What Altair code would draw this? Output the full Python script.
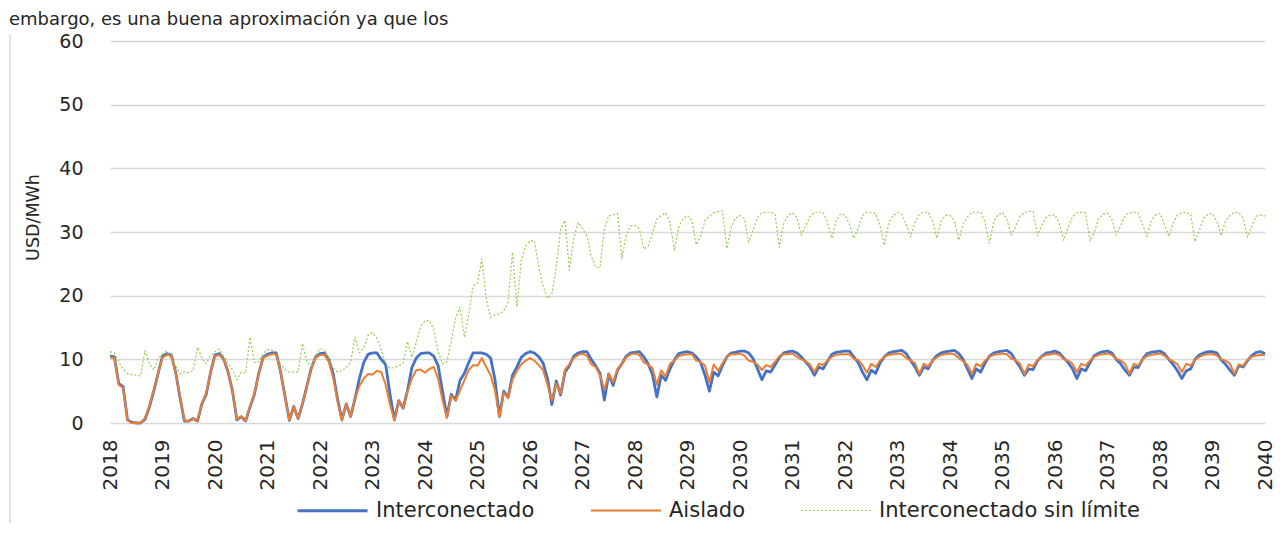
import altair as alt
import pandas as pd

START_YEAR = 2018
SERIES = ["Interconectado", "Aislado", "Interconectado sin límite"]
COLORS = ["#4472C4", "#ED7D31", "#92D050"]
Y_TICKS = [0, 10, 20, 30, 40, 50, 60]
Y_TITLE = "USD/MWh"
TOP_TEXT = "embargo, es una buena aproximación ya que los"

# Monthly values, one row per year (Jan..Dec), last value = Jan 2040
interconectado = [
    10.5, 10.4, 6.2, 5.7, 0.5, 0.1, 0.0, 0.0, 0.6, 2.5, 5.0, 7.8,
    10.5, 10.9, 10.7, 8.0, 4.0, 0.3, 0.3, 0.7, 0.3, 3.0, 4.5, 8.0,
    10.7, 10.9, 10.0, 8.0, 5.0, 0.5, 1.0, 0.3, 2.5, 4.5, 7.8, 10.3,
    10.8, 11.0, 11.0, 8.0, 4.2, 0.4, 2.6, 0.7, 3.0, 5.8, 8.6, 10.4,
    10.9, 11.0, 10.0, 7.8, 3.8, 0.5, 3.0, 1.0, 3.8, 7.0, 9.5, 10.8,
    11.0, 11.0, 10.0, 9.2, 4.5, 0.5, 3.5, 2.3, 5.1, 8.7, 10.2, 10.9,
    11.0, 11.0, 10.5, 9.0, 5.0, 1.0, 4.5, 3.6, 6.7, 7.8, 9.5, 11.0,
    11.0, 11.0, 10.8, 10.2, 6.8, 1.0, 5.0, 4.0, 7.5, 8.8, 10.3, 10.9,
    11.2, 11.0, 10.4, 9.4, 7.0, 2.9, 6.6, 4.4, 8.0, 9.0, 10.5, 11.0,
    11.2, 11.2, 10.0, 9.0, 7.8, 3.6, 7.7, 5.9, 8.3, 9.3, 10.5, 11.0,
    11.1, 11.2, 10.4, 9.3, 7.6, 4.1, 7.5, 6.7, 8.5, 9.9, 10.9, 11.1,
    11.2, 11.0, 10.4, 9.5, 7.5, 5.0, 8.0, 7.4, 9.0, 10.4, 11.0, 11.1,
    11.3, 11.3, 11.0, 10.1, 8.5, 6.8, 8.2, 8.0, 9.1, 10.3, 11.0, 11.2,
    11.3, 11.0, 10.4, 9.6, 8.8, 7.5, 8.8, 8.5, 9.7, 10.8, 11.1, 11.2,
    11.3, 11.3, 10.4, 9.5, 8.0, 6.8, 8.3, 7.8, 9.4, 10.4, 11.0, 11.2,
    11.3, 11.4, 10.9, 9.8, 8.8, 7.5, 8.8, 8.5, 9.8, 10.6, 11.0, 11.2,
    11.3, 11.4, 10.9, 10.0, 8.5, 7.0, 8.5, 8.0, 9.4, 10.5, 11.0, 11.2,
    11.3, 11.4, 10.9, 9.8, 8.8, 7.5, 8.5, 8.4, 9.8, 10.5, 11.0, 11.1,
    11.3, 11.0, 10.2, 9.5, 8.5, 7.0, 8.5, 8.2, 9.5, 10.6, 11.0, 11.2,
    11.3, 11.0, 10.0, 9.3, 8.3, 7.5, 8.8, 8.7, 10.0, 10.9, 11.1, 11.2,
    11.3, 10.9, 10.0, 9.2, 8.2, 7.0, 8.2, 8.5, 10.0, 10.7, 11.0, 11.2,
    11.2, 11.0, 9.9, 9.2, 8.3, 7.5, 9.0, 8.8, 9.8, 10.6, 11.1, 11.2,
    10.9,
]

aislado = [
    10.3, 10.2, 6.0, 5.5, 0.4, 0.0, 0.0, 0.0, 0.8, 2.7, 5.2, 7.8,
    10.3, 10.7, 10.6, 7.9, 4.2, 0.4, 0.3, 0.7, 0.3, 3.1, 4.7, 8.0,
    10.5, 10.7, 10.0, 8.0, 5.0, 0.6, 1.0, 0.3, 2.6, 4.6, 7.8, 10.2,
    10.6, 10.8, 10.8, 8.0, 4.2, 0.4, 2.6, 0.7, 3.0, 5.8, 8.5, 10.2,
    10.7, 10.7, 9.6, 7.2, 3.4, 0.4, 3.0, 1.0, 3.8, 5.8, 7.0, 7.7,
    7.6, 8.2, 8.0, 6.0, 2.9, 0.4, 3.5, 2.3, 4.9, 7.0, 8.3, 8.4,
    7.9, 8.5, 8.8, 7.0, 3.6, 0.8, 4.3, 3.5, 5.1, 6.7, 8.3, 9.1,
    9.0, 10.2, 8.8, 7.5, 5.1, 0.9, 4.8, 4.0, 6.8, 8.2, 9.2, 9.8,
    10.2, 9.8, 9.1, 8.3, 6.0, 3.6, 6.2, 4.6, 8.4, 9.2, 10.2, 10.7,
    10.9, 10.6, 9.2, 8.8, 7.5, 5.2, 7.7, 6.4, 8.5, 9.3, 10.3, 10.8,
    10.9, 10.7, 9.5, 9.2, 8.6, 6.0, 8.3, 7.3, 9.3, 9.8, 10.5, 10.7,
    10.8, 10.8, 9.8, 9.6, 9.0, 6.4, 9.2, 8.2, 9.4, 10.4, 10.8, 10.8,
    10.9, 10.6, 9.8, 9.6, 9.2, 8.3, 9.1, 8.8, 9.6, 10.5, 10.8, 10.8,
    10.9, 10.4, 10.0, 9.7, 9.2, 8.0, 9.3, 9.1, 9.8, 10.4, 10.7, 10.8,
    10.8, 10.8, 10.1, 9.9, 9.1, 7.9, 9.3, 8.8, 9.8, 10.4, 10.7, 10.8,
    10.9, 10.8, 10.2, 9.8, 9.4, 7.7, 9.3, 8.9, 9.8, 10.3, 10.7, 10.8,
    10.9, 10.8, 10.2, 9.7, 9.1, 7.7, 9.3, 8.9, 9.8, 10.4, 10.7, 10.8,
    10.9, 10.8, 10.1, 9.9, 9.3, 7.7, 9.2, 8.9, 9.9, 10.4, 10.7, 10.8,
    10.9, 10.7, 10.0, 9.8, 9.3, 8.0, 9.3, 9.0, 9.8, 10.4, 10.7, 10.8,
    10.9, 10.7, 10.1, 9.8, 9.3, 7.7, 9.3, 9.0, 10.0, 10.5, 10.7, 10.8,
    10.9, 10.6, 10.0, 9.7, 9.2, 8.0, 9.3, 9.0, 9.9, 10.4, 10.7, 10.8,
    10.8, 10.6, 10.0, 9.8, 9.3, 7.7, 9.2, 9.0, 9.9, 10.4, 10.6, 10.7,
    10.7,
]

sin_limite = [
    11.2, 11.0, 9.6, 8.5, 7.8, 7.6, 7.5, 7.4, 11.4, 9.3, 8.3, 10.1,
    10.9, 11.3, 9.9, 9.0, 7.7, 8.0, 7.9, 8.2, 11.9, 10.2, 9.3, 10.6,
    11.2, 11.6, 10.5, 9.3, 8.4, 6.8, 8.0, 7.8, 13.5, 9.5, 9.6, 10.9,
    11.5, 11.5, 10.2, 9.2, 8.4, 8.0, 8.0, 8.0, 12.5, 9.6, 9.0, 10.5,
    11.7, 11.4, 10.0, 8.6, 8.0, 8.2, 8.7, 9.5, 13.5, 11.0, 11.8, 13.8,
    14.2, 13.3, 11.5, 9.4, 8.6, 8.7, 9.0, 9.4, 12.8, 10.3, 12.7, 15.2,
    16.0, 16.1, 14.7, 11.2, 9.3, 9.6, 12.8, 16.5, 18.2, 13.5, 17.0, 21.5,
    22.0, 25.8, 19.5, 16.6, 17.0, 17.1, 17.6, 19.0, 26.8, 18.2, 25.5, 27.8,
    28.6, 28.6, 24.5, 21.5, 19.6, 20.3, 24.5, 30.5, 31.8, 24.0, 29.0, 31.5,
    30.5, 29.4, 26.2, 24.5, 24.4, 30.5, 32.5, 32.7, 32.9, 25.8, 29.5, 31.0,
    31.0, 30.5, 27.3, 27.8, 29.8, 32.0, 32.6, 33.0, 31.5, 27.2, 30.8, 32.1,
    32.6, 31.8, 28.0, 29.3, 31.8, 32.5, 33.0, 33.2, 33.3, 27.4, 30.8, 32.2,
    32.6, 32.1, 28.4, 30.3, 32.3, 33.0, 33.1, 33.1, 32.8, 27.6, 31.4, 32.6,
    33.0, 32.3, 29.5, 31.0, 32.4, 33.1, 33.1, 33.1, 31.5, 29.0, 31.8, 32.9,
    32.6, 31.3, 29.0, 30.5, 32.6, 33.1, 33.1, 32.9, 31.0, 27.9, 31.5, 32.6,
    33.1, 32.7, 31.2, 29.2, 31.5, 32.8, 33.1, 33.1, 31.8, 29.0, 31.8, 32.6,
    32.6, 31.8, 28.7, 31.2, 32.4, 33.1, 33.1, 33.1, 31.6, 28.2, 31.7, 32.7,
    33.1, 32.0, 29.5, 30.8, 32.5, 33.0, 33.3, 33.2, 29.4, 31.0, 32.3, 32.7,
    32.7, 31.3, 28.7, 30.7, 32.4, 33.0, 33.1, 33.0, 28.6, 30.0, 32.1, 32.8,
    33.0, 32.0, 29.5, 31.0, 32.6, 33.0, 33.1, 33.0, 31.2, 29.3, 31.8, 32.7,
    32.9, 31.2, 29.3, 31.4, 32.7, 33.0, 33.1, 32.8, 28.5, 30.3, 32.2, 32.8,
    32.9, 31.6, 29.4, 31.8, 32.6, 33.1, 33.0, 32.2, 29.2, 31.0, 32.5, 32.7,
    32.5,
]

FONT = "DejaVu Sans"
TXT = "#262626"
GRID = "#d9d9d9"

rows = []
for name, vals in zip(SERIES, [interconectado, aislado, sin_limite]):
    for i, v in enumerate(vals):
        rows.append({"serie": name, "mes": i, "valor": v})
df = pd.DataFrame(rows)
n_months = len(interconectado) - 1

legend = alt.Legend(
    title=None, orient="none", legendX=186, legendY=433, direction="horizontal",
    symbolType="stroke", symbolSize=4900, labelFontSize=21, labelFont=FONT,
    labelColor=TXT, labelOffset=7, columnPadding=52, padding=0, labelLimit=500,
)

enc_color = alt.Color("serie:N", scale=alt.Scale(domain=SERIES, range=COLORS), legend=legend)
enc_dash = alt.StrokeDash("serie:N", scale=alt.Scale(domain=SERIES, range=[[1, 0], [1, 0], [2, 2]]), legend=legend)
enc_width = alt.StrokeWidth("serie:O", scale=alt.Scale(domain=SERIES, range=[2.8, 1.2, 2.5]), legend=legend)

x_enc = alt.X(
    "mes:Q",
    scale=alt.Scale(domain=[0, n_months], nice=False, zero=False),
    axis=alt.Axis(
        values=list(range(0, n_months + 1, 12)),
        labelExpr=f"'' + ({START_YEAR} + datum.value / 12)",
        labelAngle=270, labelAlign="right", labelBaseline="middle",
        labelPadding=16, labelFontSize=20, labelFont=FONT, labelColor=TXT,
        ticks=False, domain=False, grid=False, title=None,
    ),
)
y_enc = alt.Y(
    "valor:Q",
    scale=alt.Scale(domain=[0, 60], nice=False),
    axis=alt.Axis(
        values=Y_TICKS, grid=True, gridColor=GRID, gridWidth=1.5,
        ticks=False, domain=False, labelPadding=27, labelFontSize=19,
        labelFont=FONT, labelColor=TXT, title=Y_TITLE, titleFont=FONT,
        titleFontSize=17.5, titleFontWeight="normal", titleColor=TXT,
        titleAngle=270, titleX=-77, titleY=176, titleAlign="center",
        titleBaseline="middle",
    ),
)

base = alt.Chart(df)
layers = []
for name in SERIES:
    layers.append(
        base.transform_filter(alt.datum.serie == name)
        .mark_line(strokeJoin="round")
        .encode(x=x_enc, y=y_enc, color=enc_color, strokeDash=enc_dash, strokeWidth=enc_width)
    )

one = pd.DataFrame({"k": [0]})
frame_left = alt.Chart(one).mark_rule(color=GRID, strokeWidth=1.5).encode(
    x=alt.value(-100), y=alt.value(-7), y2=alt.value(490)
)
top_text = alt.Chart(one).mark_text(
    align="left", baseline="alphabetic", font=FONT, fontSize=18, color=TXT
).encode(x=alt.value(-101), y=alt.value(-16), text=alt.value(TOP_TEXT))

chart = (
    alt.layer(frame_left, top_text, *layers)
    .properties(
        width=1155, height=382,
        autosize=alt.AutoSizeParams(type="none"),
        padding={"left": 102, "top": 33, "right": 12, "bottom": 100},
    )
    .configure_view(strokeWidth=0)
)

chart.save("out.html", embed_options={"renderer": "svg", "actions": False})
